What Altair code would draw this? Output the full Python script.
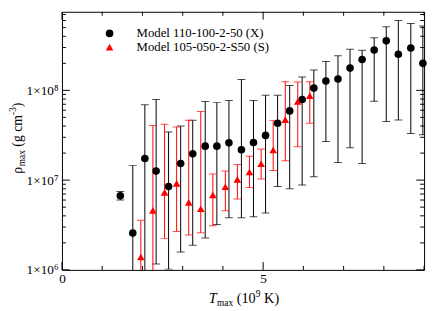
import altair as alt
import pandas as pd

# ---------------- data ----------------
series_names = ["Model 110-100-2-50 (X)", "Model 105-050-2-S50 (S)"]

x_T = [1.45, 1.76, 2.06, 2.34, 2.65, 2.95, 3.25, 3.56, 3.85, 4.15, 4.46, 4.76, 5.06,
       5.36, 5.66, 5.97, 6.26, 6.56, 6.86, 7.16, 7.46, 7.76, 8.06, 8.36, 8.67, 8.97]
x_rho = [6.7e6, 2.57e6, 1.74e7, 1.26e7, 8.5e6, 1.53e7, 1.97e7, 2.39e7, 2.39e7, 2.6e7,
         2.18e7, 2.62e7, 3.15e7, 4.3e7, 5.9e7, 7.9e7, 1.06e8, 1.27e8, 1.34e8, 1.77e8,
         2.21e8, 2.82e8, 3.56e8, 2.52e8, 2.96e8, 2.0e8]
x_hi = [7.45e6, 1.46e7, 6.9e7, 7.9e7, 3.44e7, 4.0e7, 4.65e7, 7.5e7, 7.3e7, 7.7e7,
        1.32e8, 7.7e7, 8.8e7, 8.8e7, 1.13e8, 1.41e8, 1.69e8, 2.1e8, 2.43e8, 2.87e8,
        2.8e8, 3.85e8, 5.1e8, 6.0e8, 5.56e8, 5.2e8]
x_lo = [6.0e6, 5e5, 5e5, 1.16e6, 1.02e6, 1.58e6, 1.88e6, 2.27e6, 3.2e6, 3.8e6,
        3.8e6, 3.9e6, 4.3e6, 8.5e6, 8.0e6, 8.8e6, 1.09e7, 2.7e7, 1.57e7, 2.3e7,
        1.53e7, 7.55e7, 4.5e7, 4.68e7, 3.3e7, 3.2e7]

s_T = [1.96, 2.26, 2.55, 2.85, 3.15, 3.45, 3.75, 4.06, 4.36, 4.66, 4.95, 5.25, 5.55, 5.86, 6.16]
s_rho = [1.39e6, 4.6e6, 7.3e6, 9.2e6, 5.65e6, 4.8e6, 6.85e6, 8.45e6, 1.02e7, 1.23e7,
         1.52e7, 2.17e7, 4.72e7, 7.5e7, 8.7e7]
s_hi = [3.57e6, 4.06e7, 4.2e7, 3.9e7, 4.65e7, 5.8e7, 1.17e7, 1.26e7, 1.49e7, 1.85e7,
        2.22e7, 4.6e7, 1.25e8, 1.24e8, 1.25e8]
s_lo = [5e5, 5e5, 2.23e6, 2.68e6, 2.44e6, 2.6e6, 3.1e6, 4.55e6, 6.15e6, 8.3e6,
        1.03e7, 1.28e7, 1.64e7, 2.36e7, 4.3e7]

x_major_ticks = [0, 5]
x_minor_ticks = [1, 2, 3, 4, 6, 7, 8, 9]
y_major_ticks = [1e6, 1e7, 1e8]
y_minor_ticks = [2e6, 3e6, 4e6, 5e6, 6e6, 7e6, 8e6, 9e6,
                 2e7, 3e7, 4e7, 5e7, 6e7, 7e7, 8e7, 9e7,
                 2e8, 3e8, 4e8, 5e8, 6e8, 7e8]
y_tick_labels = ["1×10⁶", "1×10⁷", "1×10⁸"]

# ---------------- tables ----------------
dfX = pd.DataFrame({"T": x_T, "rho": x_rho, "lo": x_lo, "hi": x_hi, "series": series_names[0]})
dfS = pd.DataFrame({"T": s_T, "rho": s_rho, "lo": s_lo, "hi": s_hi, "series": series_names[1]})
dfP = pd.concat([dfX, dfS], ignore_index=True)

W, H = 369, 263
FONT = "Liberation Serif"

xs = alt.Scale(domain=[0, 9], nice=False, zero=False)
ys = alt.Scale(type="log", domain=[1e6, 7.5e8], nice=False)

label_expr = " : ".join(
    f"datum.value == {v:g} ? '{l}'" for v, l in zip(y_major_ticks, y_tick_labels)
) + " : ''"

xaxis = alt.Axis(values=x_major_ticks, title=None, ticks=False, domain=False, grid=False,
                 labelFont=FONT, labelFontSize=13.5, labelColor="black", labelPadding=2,
                 labelFlush=False, labelOverlap=False)
yaxis = alt.Axis(values=y_major_ticks, labelExpr=label_expr, title=None, ticks=False,
                 domain=False, grid=False, labelFont=FONT, labelFontSize=13.5,
                 labelColor="black", labelPadding=4, labelFlush=False, labelOverlap=False)


def X(f):
    return alt.X(f, type="quantitative", scale=xs, axis=xaxis)


def Y(f):
    return alt.Y(f, type="quantitative", scale=ys, axis=yaxis)


layers = []
for df, col in [(dfX, "black"), (dfS, "red")]:
    base = alt.Chart(df)
    layers.append(base.mark_rule(color=col, strokeWidth=1, clip=True).encode(
        x=X("T"), y=Y("lo"), y2=alt.Y2("hi")))
    layers.append(base.mark_tick(color=col, size=8, thickness=1, orient="horizontal", clip=True).encode(
        x=X("T"), y=Y("hi")))
    layers.append(base.mark_tick(color=col, size=8, thickness=1, orient="horizontal", clip=True).encode(
        x=X("T"), y=Y("lo")))

legend = alt.Legend(orient="none", legendX=42, legendY=15.5, title=None, padding=0,
                    labelFont=FONT, labelFontSize=13, labelColor="black", labelOffset=21,
                    rowPadding=-5, symbolSize=60, symbolStrokeWidth=0)

layers.append(alt.Chart(dfP).mark_point(filled=True, size=60, opacity=1).encode(
    x=X("T"), y=Y("rho"),
    color=alt.Color("series:N", scale=alt.Scale(domain=series_names, range=["black", "red"]), legend=legend),
    shape=alt.Shape("series:N", scale=alt.Scale(domain=series_names, range=["circle", "triangle-up"]), legend=legend),
))

# inward ticks
for vals, ln in [(x_major_ticks, 8), (x_minor_ticks, 4)]:
    d = alt.Chart(pd.DataFrame({"v": vals}))
    layers.append(d.mark_rule(color="black", strokeWidth=1).encode(
        x=X("v"), y=alt.value(H), y2=alt.value(H - ln)))
    layers.append(d.mark_rule(color="black", strokeWidth=1).encode(
        x=X("v"), y=alt.value(0), y2=alt.value(ln)))
for vals, ln in [(y_major_ticks, 8), (y_minor_ticks, 4)]:
    d = alt.Chart(pd.DataFrame({"v": vals}))
    layers.append(d.mark_rule(color="black", strokeWidth=1).encode(
        y=Y("v"), x=alt.value(0), x2=alt.value(ln)))
    layers.append(d.mark_rule(color="black", strokeWidth=1).encode(
        y=Y("v"), x=alt.value(W), x2=alt.value(W - ln)))


def txt(s, x, y, size=14, style="normal", angle=0):
    kw = dict(font=FONT, fontSize=size, fontStyle=style, color="black",
              align="left", baseline="alphabetic")
    if angle:
        kw["angle"] = angle
    return alt.Chart(alt.Data(values=[{}])).mark_text(**kw).encode(
        x=alt.value(x), y=alt.value(y), text=alt.value(s))


# x-axis title: T_max (10^9 K)
layers += [
    txt("T", 149.5, 296.5, 14.5, "italic"),
    txt("max", 158, 299.5, 9.5),
    txt("(10", 178, 296.5, 14.5),
    txt("9", 197.4, 290.5, 9.5),
    txt("K)", 206, 296.5, 14.5),
]
# y-axis title: rho_max (g cm^-3)
layers += [
    txt("ρ", -41, 165, 14, angle=270),
    txt("max", -38, 157.3, 9.5, angle=270),
    txt("(g cm", -41, 137.4, 14, angle=270),
    txt("-3", -46.5, 105.1, 9.5, angle=270),
    txt(")", -41, 97.2, 14, angle=270),
]

chart = alt.layer(*layers).properties(
    width=W, height=H,
    autosize=alt.AutoSizeParams(type="none"),
    padding={"left": 55, "top": 1, "right": 4, "bottom": 38},
    background="white",
).configure_view(stroke="black", strokeWidth=1)

chart.save("out.html", embed_options={"renderer": "svg", "actions": False})
